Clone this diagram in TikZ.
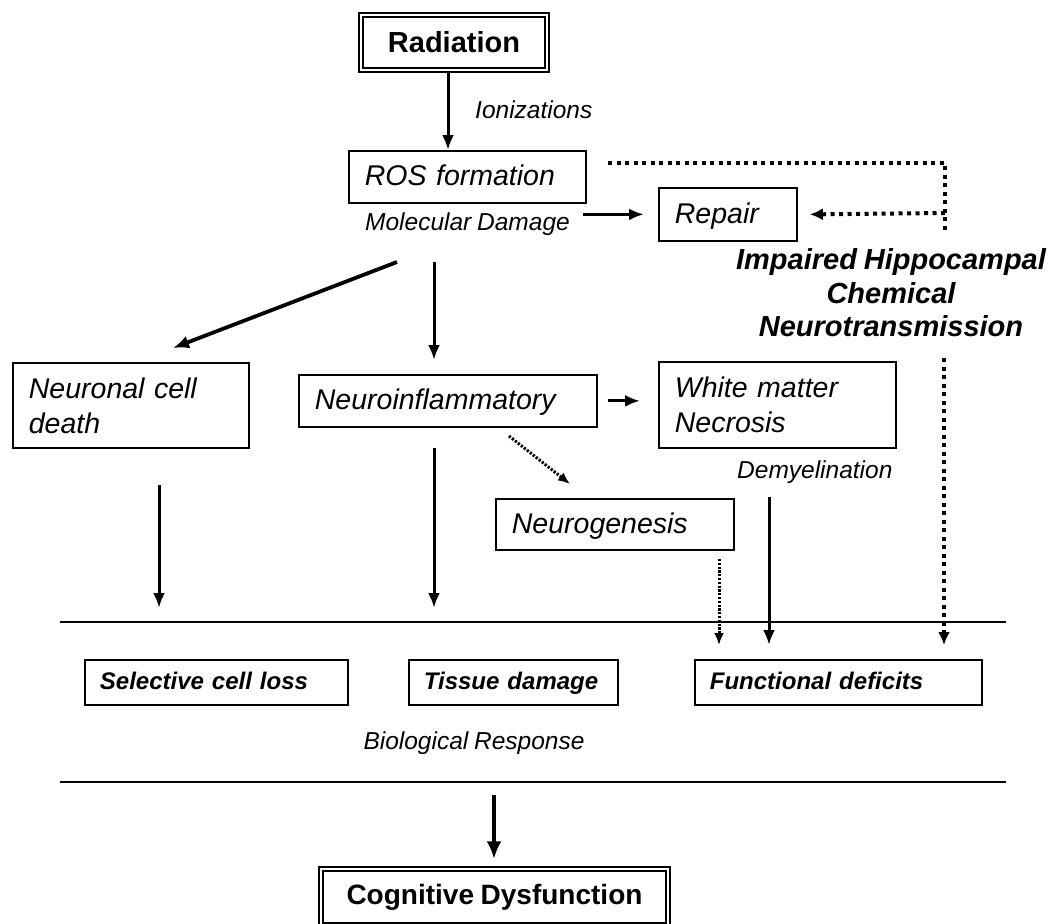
\documentclass[tikz,border=0pt]{standalone}
\usepackage{fontspec}
\setmainfont{Liberation Sans}[WordSpace=0.85]
\usetikzlibrary{arrows.meta}
\tikzset{
  box/.style={draw, line width=1.8pt, anchor=north west, inner xsep=16pt, inner ysep=0pt, align=left,
    font=\fontsize{28.5}{35}\selectfont\itshape},
  bbox/.style={draw, line width=1.8pt, anchor=north west, inner xsep=15pt, inner ysep=0pt, align=left,
    text height=18pt, text depth=3pt,
    font=\fontsize{24}{28}\selectfont\bfseries\itshape},
  oneline/.style={text height=22pt, text depth=4pt},
  dbox/.style={draw, double, line width=1.5pt, double distance=2.5pt, inner sep=0pt, align=center,
    font=\fontsize{29}{34}\selectfont\bfseries},
  lbl/.style={inner sep=0pt, font=\fontsize{24.5}{28}\selectfont\itshape},
  arr/.style={line width=3pt, -{Latex[length=15pt,width=12pt]}},
  thickarr/.style={line width=4.5pt, -{Latex[length=18pt,width=15pt]}},
  bigdots/.style={line width=4pt, dash pattern=on 4pt off 4.5pt},
  bigdotarr/.style={line width=4pt, dash pattern=on 4pt off 4.5pt, -{Latex[length=13pt,width=12pt]}},
  smalldotarr/.style={line width=3pt, dash pattern=on 2.2pt off 1.6pt, -{Latex[length=12pt,width=10pt]}},
  rule/.style={line width=2pt}
}
\begin{document}
\begin{tikzpicture}[x=1pt,y=-1pt]
\useasboundingbox (0,0) rectangle (1050,924);
\fill[white] (0,0) rectangle (1050,924);

% nodes
\node[dbox, minimum width=186pt, minimum height=55pt] (rad) at (454,42.5) {Radiation};
\node[lbl, anchor=west] (ion) at (475,110) {Ionizations};
\node[box, oneline, text width=205pt, minimum height=52pt] (ros) at (348,150) {ROS formation};
\node[lbl] (mol) at (467.5,224) {Molecular Damage};
\node[box, oneline, text width=106pt, minimum height=53pt] (rep) at (658,187) {Repair};
\node[align=center, inner sep=0pt, font=\fontsize{29}{33.5}\selectfont\bfseries\itshape] (imp) at (891,293)
  {Impaired Hippocampal\\Chemical\\Neurotransmission};

\node[box, text width=204pt, minimum height=85pt] (ncd) at (12,362) {Neuronal cell\\death};
\node[box, oneline, text width=266pt, minimum height=52pt] (neu) at (298,374) {Neuroinflammatory};
\node[box, text width=205pt, minimum height=86pt] (wmn) at (658,361) {White matter\\Necrosis};
\node[lbl, anchor=west] (dem) at (737,472) {Demyelination};
\node[box, oneline, text width=206pt, minimum height=51pt] (ngn) at (495,498) {Neurogenesis};

\node[bbox, text width=233pt, minimum height=45pt] (sel) at (84,659) {Selective cell loss};
\node[bbox, text width=179pt, minimum height=45pt] (tis) at (408,659) {Tissue damage};
\node[bbox, text width=257pt, minimum height=45pt] (fun) at (694,659) {Functional deficits};
\node[lbl] (bio) at (474,743) {Biological Response};

\node[dbox, minimum width=347pt, minimum height=56pt, font=\fontsize{28}{32}\selectfont\bfseries] (cog) at (494.5,897) {Cognitive Dysfunction};

% rules
\coordinate (r1a) at (60,622); \coordinate (r1b) at (1006,622);
\coordinate (r2a) at (60,782); \coordinate (r2b) at (1006,782);
\draw[rule] (r1a) -- (r1b);
\draw[rule] (r2a) -- (r2b);

% connectors
\draw[arr] ([xshift=-6pt]rad.south) -- ([xshift=-6pt]rad.south |- ros.north);
\draw[arr] ([xshift=13pt]mol.east |- rep.west) -- ([xshift=-14pt]rep.west);

\coordinate (d1) at (608,163);
\coordinate (d2) at (945,163);
\coordinate (d3) at (945,231);
\coordinate (d4) at (945,213);
\draw[bigdots] (d1) -- (d2) -- (d3);
\draw[bigdotarr] (d4) -- ([xshift=12pt]rep.east);

\coordinate (s1) at (397,262);
\coordinate (s2) at (434,262);
\draw[line width=3.8pt, -{Latex[length=16pt,width=13pt]}] (s1) -- (173,348) coordinate (t1);
\draw[arr] (s2) -- ([yshift=14pt]s2 |- neu.north);

\draw[arr] ([xshift=10pt]neu.east) -- ([xshift=-18pt]neu.east -| wmn.west);
\coordinate (s3) at (509,436);
\draw[smalldotarr] (s3) -- (570,484) coordinate (t3);

\coordinate (s4) at (159,485);
\draw[arr] (s4) -- ([yshift=51pt]s4 |- sel.north);
\coordinate (s5) at (434,448);
\draw[arr] (s5) -- ([yshift=51pt]s5 |- tis.north);
\coordinate (s6) at (719,559);
\draw[smalldotarr] (s6) -- ([yshift=14pt]s6 |- fun.north);
\coordinate (s7) at (769,497);
\draw[arr] (s7) -- ([yshift=14pt]s7 |- fun.north);
\coordinate (s8) at (944,358);
\draw[bigdotarr] (s8) -- ([yshift=14pt]s8 |- fun.north);

\coordinate (s9) at (494,795);
\draw[thickarr] (s9) -- ([yshift=9pt]s9 |- cog.north);
\end{tikzpicture}
\end{document}
